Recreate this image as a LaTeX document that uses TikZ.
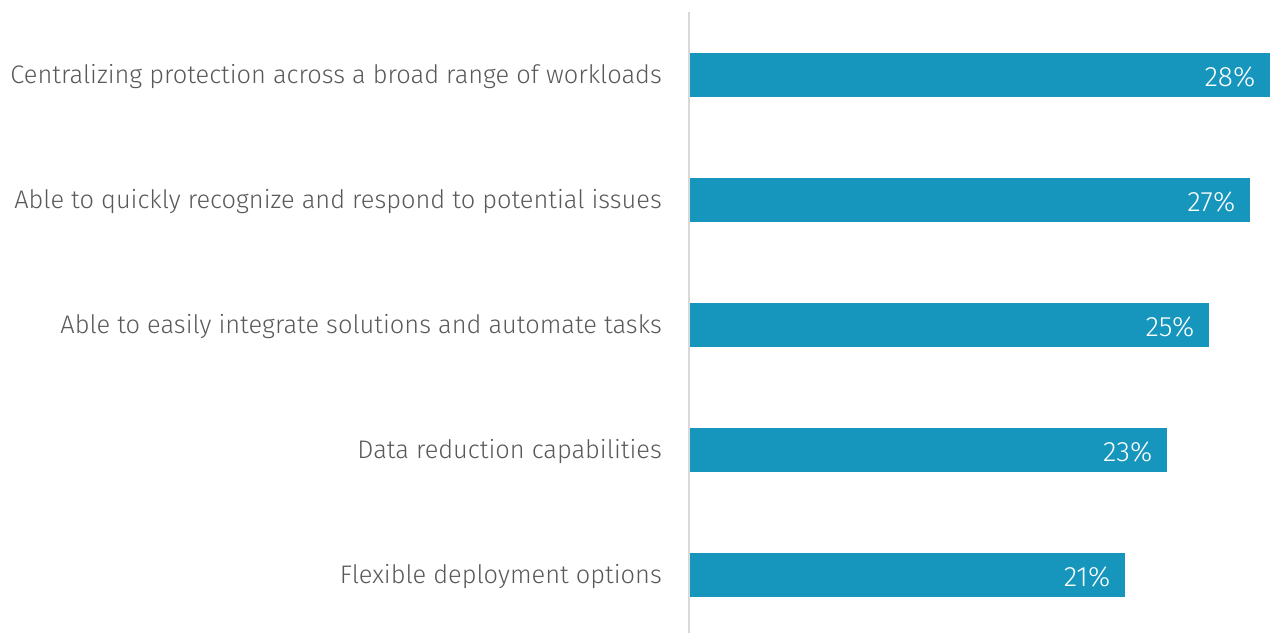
\documentclass[tikz,border=0pt]{standalone}
\usepackage{fontspec}
\setmainfont{Fira Sans}[UprightFont=* Light]
\usepackage{tikz}
\usetikzlibrary{positioning}
\definecolor{barblue}{HTML}{1696BC}
\definecolor{txtgray}{HTML}{595959}
\definecolor{axisgray}{HTML}{D9D9D9}
\tikzset{font=\fontsize{25.4}{30}\selectfont}
\tikzset{bar/.style={rectangle, fill=barblue, draw=none, minimum height=44pt, inner sep=0pt, anchor=west}}
\tikzset{cat/.style={text=txtgray, inner sep=0pt, anchor=east, yshift=-1.5pt}}
\tikzset{pct/.style={text=white, inner sep=0pt, anchor=east, yshift=-1.5pt, font=\fontsize{28}{32}\selectfont}}
\tikzset{axis/.style={draw=axisgray, line width=2pt}}

\begin{document}
\begin{tikzpicture}[x=1pt, y=-1pt]
  \useasboundingbox (0,0) rectangle (1270,633);
  % Bars
  \node[bar, minimum width=580pt] (b1) at (690,75) {};
  \node[bar, minimum width=560pt] (b2) at (690,200) {};
  \node[bar, minimum width=519pt] (b3) at (690,325) {};
  \node[bar, minimum width=477pt] (b4) at (690,450) {};
  \node[bar, minimum width=435pt] (b5) at (690,575) {};
  % Values
  \node[pct, left=15pt of b1.east] (v1) {28\%};
  \node[pct, left=15pt of b2.east] (v2) {27\%};
  \node[pct, left=15pt of b3.east] (v3) {25\%};
  \node[pct, left=15pt of b4.east] (v4) {23\%};
  \node[pct, left=15pt of b5.east] (v5) {21\%};
  % Categories
  \node[cat, left=28pt of b1.west] (c1) {Centralizing protection across a broad range of workloads};
  \node[cat, left=28pt of b2.west] (c2) {Able to quickly recognize and respond to potential issues};
  \node[cat, left=28pt of b3.west] (c3) {Able to easily integrate solutions and automate tasks};
  \node[cat, left=28pt of b4.west] (c4) {Data reduction capabilities};
  \node[cat, left=28pt of b5.west] (c5) {Flexible deployment options};
  % Axis
  \coordinate (top) at (689,12);
  \coordinate (bot) at (689,633);
  \draw[axis] (top) -- (bot);
\end{tikzpicture}
\end{document}
